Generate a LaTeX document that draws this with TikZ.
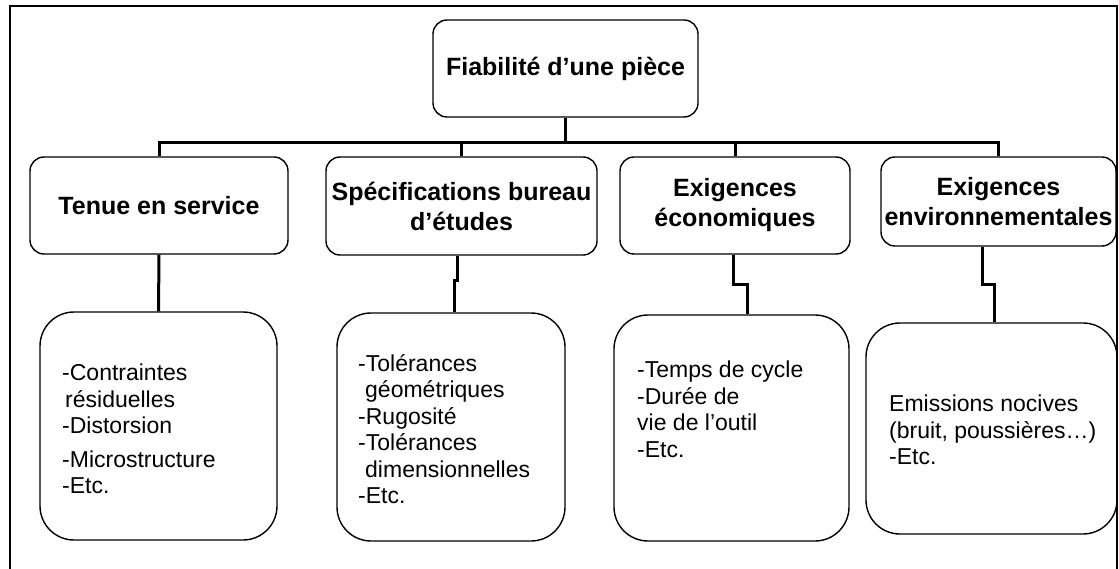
\documentclass[tikz,border=0pt]{standalone}
\usepackage{fontspec}
\setmainfont{Liberation Sans}
\usepackage{tikz}
\usetikzlibrary{positioning, calc}

\begin{document}
\begin{tikzpicture}[x=1pt, y=-1pt,
    headbox/.style={draw, line width=1.4pt, rounded corners=14pt, align=center, inner sep=2pt,
        font=\fontsize{25}{30}\selectfont\bfseries},
    itembox/.style={draw, line width=1.4pt, rounded corners=34pt},
    itemtext/.style={anchor=north west, inner sep=0pt, align=left,
        font=\fontsize{23}{26.5}\selectfont},
    link/.style={line width=3pt}]
    \useasboundingbox (0,0) rectangle (1119,569);
    % cadre
    \draw[line width=2.2pt] (10,569) -- (10,6) -- (1117,6) -- (1117,569);

    % niveau 0
    \node[headbox, minimum width=265pt, minimum height=97pt] (root) at (565.5,68.5) {Fiabilité d’une pièce};

    % niveau 1
    \node[headbox, minimum width=258pt, minimum height=97pt] (tenue) at (159,205.5) {Tenue en service};
    \node[headbox, minimum width=271pt, minimum height=98pt] (spec) at (461.5,206) {Spécifications bureau\\d’études};
    \node[headbox, minimum width=230pt, minimum height=97pt] (eco) at (735,205.5) {Exigences\\économiques};
    \node[headbox, minimum width=235pt, minimum height=89pt] (env) at (998.5,201.5) {Exigences\\environnementales};

    % niveau 2
    \node[itembox, minimum width=237pt, minimum height=228pt] (tenueL) at (158.5,426) {};
    \node[itembox, minimum width=228pt, minimum height=228pt] (specL) at (451,427) {};
    \node[itembox, minimum width=235pt, minimum height=226pt] (ecoL) at (731.5,428) {};
    \node[itembox, minimum width=251pt, minimum height=211pt] (envL) at (991.5,428.5) {};

    \node[itemtext] (tenueT) at (62,364) {-Contraintes\\\hspace*{3pt}résiduelles\\-Distorsion\\[7pt]-Microstructure\\-Etc.};
    \node[itemtext] (specT) at (358,354) {-Tolérances\\\hspace*{7pt}géométriques\\-Rugosité\\-Tolérances\\\hspace*{7pt}dimensionnelles\\-Etc.};
    \node[itemtext] (ecoT) at (637,361) {-Temps de cycle\\-Durée de\\vie de l’outil\\-Etc.};
    \node[itemtext] (envT) at (889,395) {Emissions nocives\\(bruit, poussières…)\\-Etc.};

    % liaisons
    \coordinate (busL) at (159,143);
    \coordinate (busR) at (998.5,143);
    \draw[link] (tenue.north) -- (busL) -- (busR) -- (env.north);
    \draw[link] (root.south) -- (root.south |- busL);
    \draw[link] (spec.north) -- (spec.north |- busL);
    \draw[link] (eco.north) -- (eco.north |- busL);

    \draw[link] (tenue.south) -- (tenueL.north);
    \draw[link] ([xshift=-4.5pt]spec.south) -- ++(0,25) -| ([xshift=3pt]specL.north);
    \draw[link] ([xshift=-2pt]eco.south) -- ++(0,30) -| ([xshift=15.5pt]ecoL.north);
    \draw[link] ([xshift=-16.5pt]env.south) -- ++(0,38) -| ([xshift=2.5pt]envL.north);
\end{tikzpicture}
\end{document}
